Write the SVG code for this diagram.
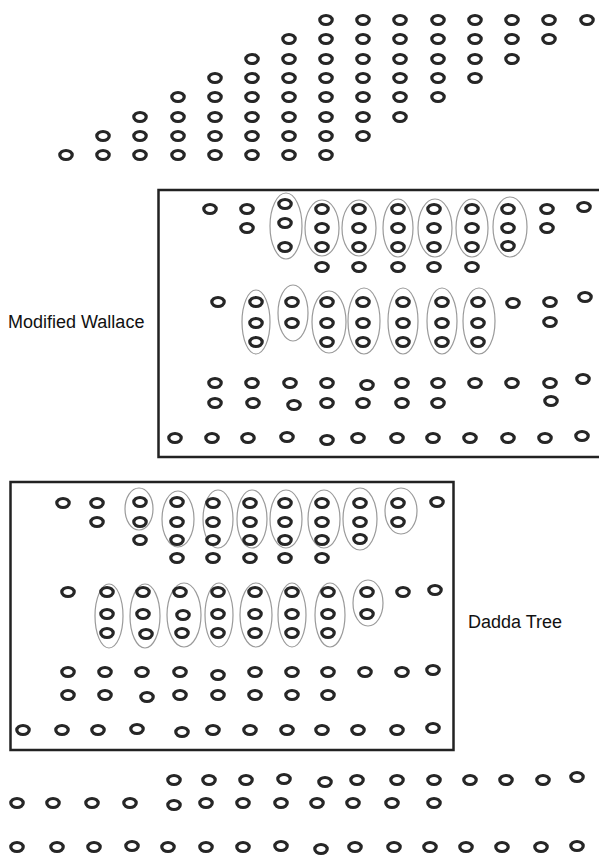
<svg xmlns="http://www.w3.org/2000/svg" xmlns:xlink="http://www.w3.org/1999/xlink" width="599" height="859" viewBox="0 0 599 859">
<style>
.dt{fill:#fff;stroke:#262626;stroke-width:3.2}
.ov{fill:none;stroke:#9a9a9a;stroke-width:1.2}
.box{fill:none;stroke:#222;stroke-width:2.5}
.lbl{font-family:"Liberation Sans",Arial,sans-serif;font-size:18px;fill:#111}
</style>
<defs>
<ellipse id="d" class="dt" cx="0" cy="0" rx="6.2" ry="4.5"/>
</defs>
<rect width="599" height="859" fill="#fff"/>

<g id="partial-products">
<use href="#d" x="326" y="20"/><use href="#d" x="363" y="20"/><use href="#d" x="400" y="20"/><use href="#d" x="438" y="20"/><use href="#d" x="475" y="20"/><use href="#d" x="512" y="20"/><use href="#d" x="549" y="20"/><use href="#d" x="587" y="20"/>
<use href="#d" x="289" y="39"/><use href="#d" x="326" y="39"/><use href="#d" x="363" y="39"/><use href="#d" x="400" y="39"/><use href="#d" x="438" y="39"/><use href="#d" x="475" y="39"/><use href="#d" x="512" y="39"/><use href="#d" x="549" y="39"/>
<use href="#d" x="252" y="59"/><use href="#d" x="289" y="59"/><use href="#d" x="326" y="59"/><use href="#d" x="363" y="59"/><use href="#d" x="400" y="59"/><use href="#d" x="438" y="59"/><use href="#d" x="475" y="59"/><use href="#d" x="512" y="59"/>
<use href="#d" x="215" y="78"/><use href="#d" x="252" y="78"/><use href="#d" x="289" y="78"/><use href="#d" x="326" y="78"/><use href="#d" x="363" y="78"/><use href="#d" x="400" y="78"/><use href="#d" x="438" y="78"/><use href="#d" x="475" y="78"/>
<use href="#d" x="178" y="97"/><use href="#d" x="215" y="97"/><use href="#d" x="252" y="97"/><use href="#d" x="289" y="97"/><use href="#d" x="326" y="97"/><use href="#d" x="363" y="97"/><use href="#d" x="400" y="97"/><use href="#d" x="438" y="97"/>
<use href="#d" x="140" y="117"/><use href="#d" x="178" y="117"/><use href="#d" x="215" y="117"/><use href="#d" x="252" y="117"/><use href="#d" x="289" y="117"/><use href="#d" x="326" y="117"/><use href="#d" x="363" y="117"/><use href="#d" x="400" y="117"/>
<use href="#d" x="103" y="136"/><use href="#d" x="140" y="136"/><use href="#d" x="178" y="136"/><use href="#d" x="215" y="136"/><use href="#d" x="252" y="136"/><use href="#d" x="289" y="136"/><use href="#d" x="326" y="136"/><use href="#d" x="363" y="136"/>
<use href="#d" x="66" y="155"/><use href="#d" x="103" y="155"/><use href="#d" x="140" y="155"/><use href="#d" x="178" y="155"/><use href="#d" x="215" y="155"/><use href="#d" x="252" y="155"/><use href="#d" x="289" y="155"/><use href="#d" x="326" y="155"/>
</g>

<g id="wallace">
<rect class="box" x="158.5" y="190" width="460" height="267"/>
<text class="lbl" x="8" y="328">Modified Wallace</text>
<ellipse class="ov" cx="286" cy="226" rx="16" ry="33"/>
<ellipse class="ov" cx="322" cy="228" rx="17" ry="28"/>
<ellipse class="ov" cx="359" cy="228" rx="17" ry="28"/>
<ellipse class="ov" cx="398" cy="228" rx="15" ry="29"/>
<ellipse class="ov" cx="435" cy="228" rx="17" ry="29"/>
<ellipse class="ov" cx="472" cy="228" rx="16" ry="29"/>
<ellipse class="ov" cx="510" cy="227" rx="17" ry="30"/>
<use href="#d" x="210" y="209"/><use href="#d" x="247" y="209"/><use href="#d" x="285" y="204"/><use href="#d" x="322" y="209"/><use href="#d" x="359" y="209"/><use href="#d" x="398" y="209"/><use href="#d" x="434" y="209"/><use href="#d" x="472" y="209"/><use href="#d" x="508" y="209"/><use href="#d" x="547" y="209"/><use href="#d" x="584" y="207"/>
<use href="#d" x="247" y="228"/><use href="#d" x="285" y="223"/><use href="#d" x="322" y="228"/><use href="#d" x="359" y="228"/><use href="#d" x="398" y="228"/><use href="#d" x="434" y="228"/><use href="#d" x="472" y="228"/><use href="#d" x="508" y="228"/><use href="#d" x="547" y="228"/>
<use href="#d" x="285" y="247"/><use href="#d" x="322" y="247"/><use href="#d" x="359" y="247"/><use href="#d" x="398" y="247"/><use href="#d" x="434" y="247"/><use href="#d" x="472" y="247"/><use href="#d" x="508" y="246"/>
<use href="#d" x="322" y="267"/><use href="#d" x="359" y="267"/><use href="#d" x="398" y="267"/><use href="#d" x="434" y="267"/><use href="#d" x="472" y="267"/>
<ellipse class="ov" cx="256" cy="322" rx="14" ry="32"/>
<ellipse class="ov" cx="293" cy="313" rx="15" ry="28"/>
<ellipse class="ov" cx="329" cy="322" rx="17" ry="31"/>
<ellipse class="ov" cx="364" cy="321" rx="16" ry="33"/>
<ellipse class="ov" cx="403" cy="321" rx="15" ry="33"/>
<ellipse class="ov" cx="442" cy="321" rx="15" ry="33"/>
<ellipse class="ov" cx="479" cy="321" rx="16" ry="33"/>
<use href="#d" x="218" y="302"/><use href="#d" x="256" y="302"/><use href="#d" x="292" y="302"/><use href="#d" x="327" y="302"/><use href="#d" x="363" y="302"/><use href="#d" x="403" y="302"/><use href="#d" x="442" y="302"/><use href="#d" x="478" y="302"/><use href="#d" x="513" y="303"/><use href="#d" x="550" y="302"/><use href="#d" x="585" y="297"/>
<use href="#d" x="256" y="323"/><use href="#d" x="292" y="323"/><use href="#d" x="327" y="323"/><use href="#d" x="363" y="323"/><use href="#d" x="403" y="323"/><use href="#d" x="442" y="323"/><use href="#d" x="478" y="323"/><use href="#d" x="550" y="322"/>
<use href="#d" x="256" y="342"/><use href="#d" x="327" y="342"/><use href="#d" x="363" y="342"/><use href="#d" x="403" y="342"/><use href="#d" x="442" y="342"/><use href="#d" x="478" y="342"/>
<use href="#d" x="215" y="383"/><use href="#d" x="252" y="383"/><use href="#d" x="290" y="383"/><use href="#d" x="327" y="383"/><use href="#d" x="367" y="385"/><use href="#d" x="402" y="383"/><use href="#d" x="438" y="383"/><use href="#d" x="475" y="383"/><use href="#d" x="512" y="383"/><use href="#d" x="550" y="383"/><use href="#d" x="583" y="379"/>
<use href="#d" x="215" y="403"/><use href="#d" x="253" y="403"/><use href="#d" x="294" y="405"/><use href="#d" x="327" y="403"/><use href="#d" x="363" y="403"/><use href="#d" x="402" y="403"/><use href="#d" x="438" y="403"/><use href="#d" x="551" y="401"/>
<use href="#d" x="175" y="438"/><use href="#d" x="212" y="438"/><use href="#d" x="248" y="438"/><use href="#d" x="287" y="437"/><use href="#d" x="327" y="440"/><use href="#d" x="358" y="438"/><use href="#d" x="397" y="438"/><use href="#d" x="433" y="438"/><use href="#d" x="470" y="438"/><use href="#d" x="508" y="438"/><use href="#d" x="545" y="438"/><use href="#d" x="582" y="436"/>
</g>

<g id="dadda">
<rect class="box" x="10.5" y="482" width="443" height="268"/>
<text class="lbl" x="468" y="628">Dadda Tree</text>
<ellipse class="ov" cx="139" cy="509" rx="14" ry="21"/>
<ellipse class="ov" cx="178" cy="519" rx="16" ry="28"/>
<ellipse class="ov" cx="218" cy="519" rx="15" ry="29"/>
<ellipse class="ov" cx="252" cy="519" rx="15" ry="29"/>
<ellipse class="ov" cx="286" cy="519" rx="16" ry="29"/>
<ellipse class="ov" cx="324" cy="519" rx="16" ry="29"/>
<ellipse class="ov" cx="360" cy="519" rx="17" ry="31"/>
<ellipse class="ov" cx="401" cy="511" rx="16" ry="23"/>
<use href="#d" x="63" y="503"/><use href="#d" x="97" y="503"/><use href="#d" x="140" y="502"/><use href="#d" x="177" y="502"/><use href="#d" x="213" y="503"/><use href="#d" x="250" y="503"/><use href="#d" x="285" y="503"/><use href="#d" x="322" y="503"/><use href="#d" x="360" y="503"/><use href="#d" x="398" y="503"/><use href="#d" x="437" y="502"/>
<use href="#d" x="97" y="522"/><use href="#d" x="140" y="522"/><use href="#d" x="177" y="522"/><use href="#d" x="213" y="522"/><use href="#d" x="250" y="522"/><use href="#d" x="285" y="522"/><use href="#d" x="322" y="522"/><use href="#d" x="360" y="522"/><use href="#d" x="398" y="522"/>
<use href="#d" x="140" y="540"/><use href="#d" x="177" y="540"/><use href="#d" x="213" y="540"/><use href="#d" x="250" y="540"/><use href="#d" x="285" y="540"/><use href="#d" x="322" y="540"/><use href="#d" x="360" y="539"/>
<use href="#d" x="177" y="558"/><use href="#d" x="213" y="558"/><use href="#d" x="250" y="558"/><use href="#d" x="285" y="558"/><use href="#d" x="322" y="558"/>
<ellipse class="ov" cx="109" cy="616" rx="14" ry="32"/>
<ellipse class="ov" cx="145" cy="616" rx="15" ry="32"/>
<ellipse class="ov" cx="184" cy="615" rx="17" ry="32"/>
<ellipse class="ov" cx="219" cy="615" rx="14" ry="32"/>
<ellipse class="ov" cx="256" cy="615" rx="16" ry="32"/>
<ellipse class="ov" cx="292" cy="615" rx="14" ry="32"/>
<ellipse class="ov" cx="330" cy="615" rx="15" ry="32"/>
<ellipse class="ov" cx="368" cy="603" rx="15" ry="23"/>
<use href="#d" x="68" y="592"/><use href="#d" x="107" y="592"/><use href="#d" x="143" y="592"/><use href="#d" x="180" y="592"/><use href="#d" x="218" y="592"/><use href="#d" x="255" y="592"/><use href="#d" x="292" y="592"/><use href="#d" x="328" y="592"/><use href="#d" x="367" y="592"/><use href="#d" x="403" y="592"/><use href="#d" x="435" y="590"/>
<use href="#d" x="107" y="614"/><use href="#d" x="143" y="614"/><use href="#d" x="183" y="615"/><use href="#d" x="218" y="614"/><use href="#d" x="255" y="614"/><use href="#d" x="292" y="614"/><use href="#d" x="328" y="614"/><use href="#d" x="367" y="614"/>
<use href="#d" x="107" y="633"/><use href="#d" x="146" y="634"/><use href="#d" x="182" y="633"/><use href="#d" x="218" y="633"/><use href="#d" x="255" y="633"/><use href="#d" x="292" y="633"/><use href="#d" x="328" y="633"/>
<use href="#d" x="68" y="672"/><use href="#d" x="105" y="672"/><use href="#d" x="142" y="672"/><use href="#d" x="180" y="672"/><use href="#d" x="218" y="675"/><use href="#d" x="255" y="672"/><use href="#d" x="292" y="672"/><use href="#d" x="328" y="672"/><use href="#d" x="365" y="672"/><use href="#d" x="402" y="672"/><use href="#d" x="433" y="670"/>
<use href="#d" x="68" y="695"/><use href="#d" x="105" y="695"/><use href="#d" x="147" y="697"/><use href="#d" x="180" y="695"/><use href="#d" x="218" y="695"/><use href="#d" x="255" y="695"/><use href="#d" x="292" y="695"/><use href="#d" x="328" y="695"/>
<use href="#d" x="23" y="730"/><use href="#d" x="62" y="730"/><use href="#d" x="98" y="730"/><use href="#d" x="137" y="729"/><use href="#d" x="182" y="732"/><use href="#d" x="213" y="730"/><use href="#d" x="250" y="730"/><use href="#d" x="287" y="730"/><use href="#d" x="322" y="730"/><use href="#d" x="358" y="730"/><use href="#d" x="397" y="730"/><use href="#d" x="433" y="728"/>
</g>

<g id="final">
<use href="#d" x="174" y="780"/><use href="#d" x="209" y="780"/><use href="#d" x="246" y="780"/><use href="#d" x="284" y="779"/><use href="#d" x="325" y="782"/><use href="#d" x="357" y="780"/><use href="#d" x="397" y="780"/><use href="#d" x="434" y="780"/><use href="#d" x="470" y="780"/><use href="#d" x="506" y="780"/><use href="#d" x="543" y="780"/><use href="#d" x="577" y="777"/>
<use href="#d" x="17" y="803"/><use href="#d" x="53" y="803"/><use href="#d" x="92" y="803"/><use href="#d" x="130" y="803"/><use href="#d" x="174" y="805"/><use href="#d" x="206" y="803"/><use href="#d" x="243" y="803"/><use href="#d" x="281" y="803"/><use href="#d" x="317" y="803"/><use href="#d" x="353" y="803"/><use href="#d" x="392" y="803"/><use href="#d" x="434" y="803"/>
<use href="#d" x="17" y="847"/><use href="#d" x="57" y="847"/><use href="#d" x="94" y="847"/><use href="#d" x="132" y="846"/><use href="#d" x="168" y="847"/><use href="#d" x="206" y="847"/><use href="#d" x="243" y="847"/><use href="#d" x="281" y="846"/><use href="#d" x="321" y="849"/><use href="#d" x="355" y="847"/><use href="#d" x="394" y="847"/><use href="#d" x="430" y="847"/><use href="#d" x="466" y="847"/><use href="#d" x="502" y="847"/><use href="#d" x="541" y="847"/><use href="#d" x="577" y="846"/>
</g>
</svg>
